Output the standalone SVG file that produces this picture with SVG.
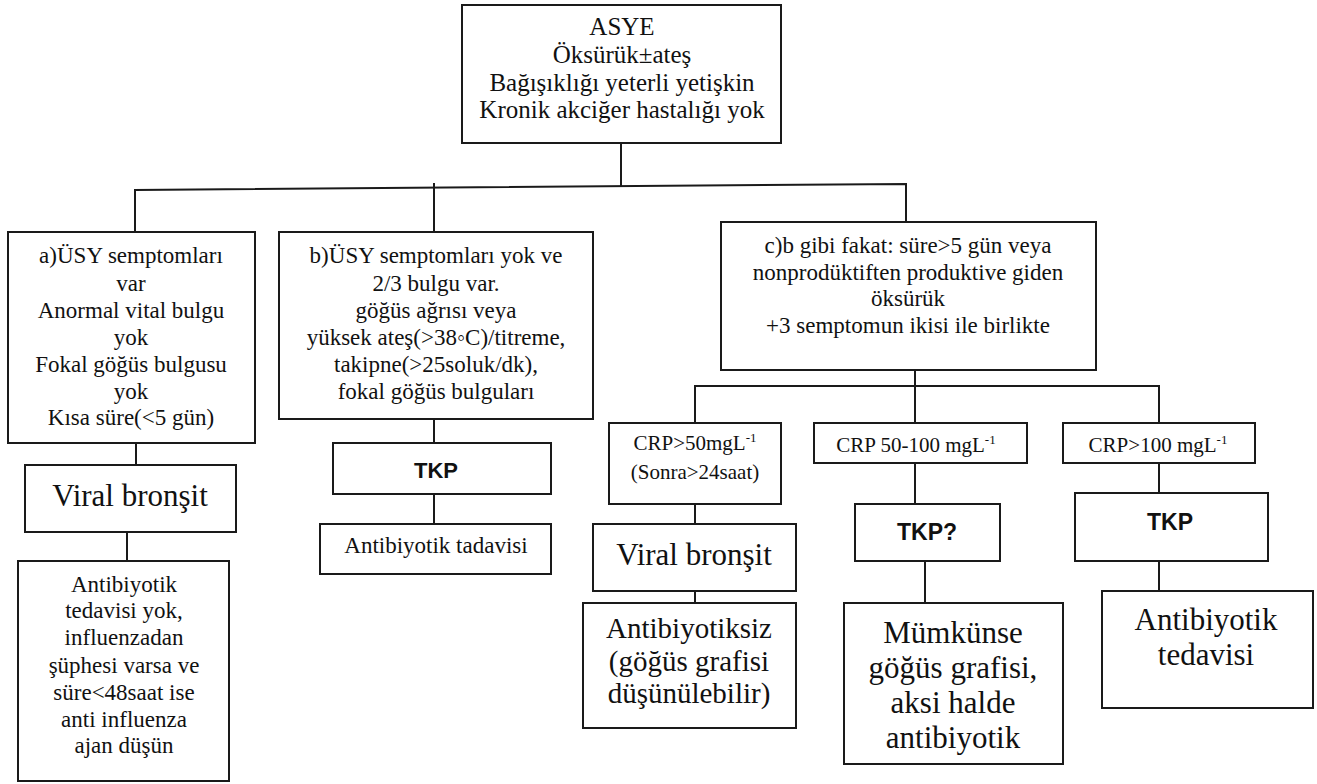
<svg xmlns="http://www.w3.org/2000/svg" width="1317" height="784" viewBox="0 0 1317 784">
<style>
.box{fill:#fff;stroke:#1a1a1a;stroke-width:2}
.ln{stroke:#1a1a1a;stroke-width:2;fill:none}
.t{font-family:"Liberation Serif","Times New Roman",serif;fill:#111;text-anchor:middle}
.s{font-family:"Liberation Sans",Arial,sans-serif;font-weight:bold;fill:#111;text-anchor:middle}
.f21{font-size:21px}.f23{font-size:23px}.f25{font-size:25px}.f29{font-size:29px}.f31{font-size:31px}
.sup{font-size:13px}
</style>
<rect width="1317" height="784" fill="#fff"/>
<g id="connectors">
<path class="ln" d="M621,143 V186"/>
<polyline class="ln" points="135,232 135,190 906,184 906,222"/>
<path class="ln" d="M434,183 V232"/>
<path class="ln" d="M136,443 V465"/>
<path class="ln" d="M127,532 V561"/>
<path class="ln" d="M434,419 V443"/>
<path class="ln" d="M434,494 V524"/>
<path class="ln" d="M915,370 V423"/>
<polyline class="ln" points="695,423 695,386 1159,386 1159,423"/>
<path class="ln" d="M695,504 V524"/>
<path class="ln" d="M695,591 V603"/>
<path class="ln" d="M915,463 V504"/>
<path class="ln" d="M925,561 V603"/>
<path class="ln" d="M1159,463 V493"/>
<path class="ln" d="M1159,561 V591"/>
</g>
<g id="asye">
<rect class="box" x="462" y="5" width="319" height="138"/>
<text class="t f25"><tspan x="622" y="35">ASYE</tspan><tspan x="622" y="63">Öksürük±ateş</tspan><tspan x="622" y="91">Bağışıklığı yeterli yetişkin</tspan><tspan x="622" y="118">Kronik akciğer hastalığı yok</tspan></text>
</g>
<g id="node-a">
<rect class="box" x="8" y="232" width="247" height="211"/>
<text class="t f23"><tspan x="131" y="263">a)ÜSY semptomları</tspan><tspan x="131" y="291">var</tspan><tspan x="131" y="318">Anormal vital bulgu</tspan><tspan x="131" y="345">yok</tspan><tspan x="131" y="372">Fokal göğüs bulgusu</tspan><tspan x="131" y="399">yok</tspan><tspan x="131" y="425">Kısa süre(&lt;5 gün)</tspan></text>
</g>
<g id="node-b">
<rect class="box" x="279" y="232" width="314" height="187"/>
<text class="t f23"><tspan x="436" y="263">b)ÜSY semptomları yok ve</tspan><tspan x="436" y="291">2/3 bulgu var.</tspan><tspan x="436" y="318">göğüs ağrısı veya</tspan><tspan x="436" y="345">yüksek ateş(&gt;38◦C)/titreme,</tspan><tspan x="436" y="372">takipne(&gt;25soluk/dk),</tspan><tspan x="436" y="399">fokal göğüs bulguları</tspan></text>
</g>
<g id="node-c">
<rect class="box" x="721" y="222" width="375" height="148"/>
<text class="t f23"><tspan x="908" y="253">c)b gibi fakat: süre&gt;5 gün veya</tspan><tspan x="908" y="280">nonprodüktiften produktive giden</tspan><tspan x="908" y="306">öksürük</tspan><tspan x="908" y="333">+3 semptomun ikisi ile birlikte</tspan></text>
</g>
<g id="viral-a">
<rect class="box" x="25" y="465" width="211" height="67"/>
<text class="t f31" x="130" y="506">Viral bronşit</text>
</g>
<g id="antibiyotik-a">
<rect class="box" x="18" y="561" width="211" height="220"/>
<text class="t f23"><tspan x="124" y="592">Antibiyotik</tspan><tspan x="124" y="618">tedavisi yok,</tspan><tspan x="124" y="645">influenzadan</tspan><tspan x="124" y="673">şüphesi varsa ve</tspan><tspan x="124" y="700">süre&lt;48saat ise</tspan><tspan x="124" y="727">anti influenza</tspan><tspan x="124" y="753">ajan düşün</tspan></text>
</g>
<g id="tkp-b">
<rect class="box" x="333" y="443" width="218" height="51"/>
<text class="s" font-size="22" x="436" y="478">TKP</text>
</g>
<g id="antibiyotik-b">
<rect class="box" x="320" y="524" width="231" height="50"/>
<text class="t f23" x="436" y="553">Antibiyotik tadavisi</text>
</g>
<g id="crp1">
<rect class="box" x="609" y="423" width="172" height="81"/>
<text class="t f21"><tspan x="695" y="450">CRP&gt;50mgL<tspan class="sup" dy="-8">-1</tspan></tspan><tspan x="695" y="479">(Sonra&gt;24saat)</tspan></text>
</g>
<g id="crp2">
<rect class="box" x="814" y="423" width="213" height="40"/>
<text class="t f21" x="916" y="452">CRP 50-100 mgL<tspan class="sup" dy="-8">-1</tspan></text>
</g>
<g id="crp3">
<rect class="box" x="1063" y="423" width="192" height="40"/>
<text class="t f21" x="1158" y="452">CRP&gt;100 mgL<tspan class="sup" dy="-8">-1</tspan></text>
</g>
<g id="viral-c">
<rect class="box" x="593" y="524" width="203" height="67"/>
<text class="t f31" x="694" y="565">Viral bronşit</text>
</g>
<g id="antibiyotiksiz">
<rect class="box" x="583" y="603" width="213" height="125"/>
<text class="t f29"><tspan x="689" y="638">Antibiyotiksiz</tspan><tspan x="689" y="671">(göğüs grafisi</tspan><tspan x="689" y="703">düşünülebilir)</tspan></text>
</g>
<g id="tkp-q">
<rect class="box" x="855" y="504" width="145" height="57"/>
<text class="s" font-size="23" x="927" y="540">TKP?</text>
</g>
<g id="mumkunse">
<rect class="box" x="844" y="603" width="219" height="161"/>
<text class="t f31"><tspan x="953" y="643">Mümkünse</tspan><tspan x="953" y="678">göğüs grafisi,</tspan><tspan x="953" y="713">aksi halde</tspan><tspan x="953" y="748">antibiyotik</tspan></text>
</g>
<g id="tkp-3">
<rect class="box" x="1075" y="493" width="193" height="68"/>
<text class="s" font-size="23" x="1170" y="530">TKP</text>
</g>
<g id="antibiyotik-3">
<rect class="box" x="1102" y="591" width="211" height="117"/>
<text class="t f31"><tspan x="1206" y="630">Antibiyotik</tspan><tspan x="1206" y="665">tedavisi</tspan></text>
</g>
</svg>
